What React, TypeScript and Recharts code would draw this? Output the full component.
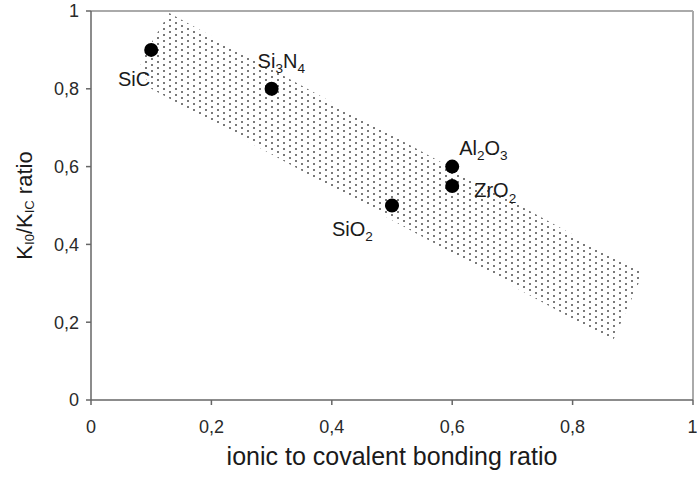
import { ScatterChart, Scatter, XAxis, YAxis, ReferenceLine, Label } from 'recharts';

const materials = ['SiC', 'Si3N4', 'SiO2', 'Al2O3', 'ZrO2'];
const bondingRatio = [0.1, 0.3, 0.5, 0.6, 0.6];
const toughnessRatio = [0.9, 0.8, 0.5, 0.6, 0.55];

// outline of the dotted band (corners)
const bandX = [0.13, 0.081, 0.098, 0.867, 0.917];
const bandY = [0.995, 0.869, 0.802, 0.152, 0.326];

const axisTicks = [0, 0.2, 0.4, 0.6, 0.8, 1];

const points = materials.map((name, i) => ({ name, x: bondingRatio[i], y: toughnessRatio[i] }));
const band = bandX.map((x, i) => ({ x, y: bandY[i] }));

// where each label sits relative to its dot: [dx, dy, anchor]
const labelPos: Record<string, [number, number, string]> = {
  SiC: [-1, 36, 'end'],
  Si3N4: [-14, -21, 'start'],
  SiO2: [-60, 30, 'start'],
  Al2O3: [7, -12, 'start'],
  ZrO2: [22, 11, 'start'],
};

const fmt = (v: number) => String(v).replace('.', ',');

function formula(text: string, size: number) {
  const parts = text.match(/[A-Za-z]+|\d+/g) || [];
  let sub = false;
  return parts.map((p, i) => {
    const isSub = /\d/.test(p);
    const dy = isSub === sub ? 0 : isSub ? size * 0.28 : -size * 0.28;
    sub = isSub;
    return (
      <tspan key={i} dy={dy} fontSize={isSub ? size * 0.68 : size}>
        {p}
      </tspan>
    );
  });
}

function Dot(props: any) {
  const { cx, cy, payload } = props;
  const [dx, dy, anchor] = labelPos[payload.name];
  return (
    <g>
      <circle cx={cx} cy={cy} r={7} fill="#000" />
      <text x={cx + dx} y={cy + dy} textAnchor={anchor as any} fill="#1a1a1a" fontSize={20}>
        {formula(payload.name, 20)}
      </text>
    </g>
  );
}

function BandShape(props: any) {
  const pts = (props.points || []).map((p: any) => `${p.x},${p.y}`).join(' ');
  return (
    <g>
      <defs>
        <pattern id="dots" width={12} height={6} patternUnits="userSpaceOnUse">
          <rect x={1} y={1} width={2} height={2} fill="#7a7a7a" />
          <rect x={7} y={4} width={2} height={2} fill="#7a7a7a" />
        </pattern>
      </defs>
      <polygon points={pts} fill="url(#dots)" stroke="none" />
    </g>
  );
}

function YTitle(props: any) {
  const { viewBox } = props;
  const x = viewBox.x + 24;
  const y = viewBox.y + viewBox.height / 2;
  return (
    <text
      x={x}
      y={y}
      transform={`rotate(-90 ${x} ${y})`}
      textAnchor="middle"
      dominantBaseline="central"
      fill="#1a1a1a"
      fontSize={22}
    >
      <tspan>K</tspan>
      <tspan fontSize={13} dy={5}>I0</tspan>
      <tspan dy={-5}>/K</tspan>
      <tspan fontSize={13} dy={5}>IC</tspan>
      <tspan dy={-5}> ratio</tspan>
    </text>
  );
}

function XTitle(props: any) {
  const { viewBox } = props;
  return (
    <text x={viewBox.x + viewBox.width / 2} y={465} textAnchor="middle" fill="#1a1a1a" fontSize={25}>
      ionic to covalent bonding ratio
    </text>
  );
}

export default function App() {
  return (
    <div style={{ position: 'absolute', left: 0, top: 0, fontFamily: '"Liberation Sans", Arial, sans-serif' }}>
      <ScatterChart width={697} height={478} margin={{ top: 11, right: 4, bottom: 0, left: 0 }}>
        <XAxis
          type="number"
          dataKey="x"
          domain={[0, 1]}
          ticks={axisTicks}
          tickFormatter={fmt}
          height={78}
          tickSize={5}
          tickMargin={15}
          stroke="#666"
          strokeWidth={1.5}
          tick={{ fontSize: 18, fill: '#2a2a2a' }}
        >
          <Label content={<XTitle />} />
        </XAxis>
        <YAxis
          type="number"
          dataKey="y"
          domain={[0, 1]}
          ticks={axisTicks}
          tickFormatter={fmt}
          width={91}
          tickSize={5}
          tickMargin={7}
          stroke="#666"
          strokeWidth={1.5}
          tick={{ fontSize: 18, fill: '#2a2a2a' }}
        >
          <Label content={<YTitle />} />
        </YAxis>
        <ReferenceLine y={1} stroke="#aaa" strokeWidth={2} />
        <ReferenceLine x={1} stroke="#aaa" strokeWidth={2} />
        <Scatter data={band} line={(p: any) => <BandShape {...p} />} shape={() => <g />} isAnimationActive={false} />
        <Scatter data={points} shape={<Dot />} isAnimationActive={false} />
      </ScatterChart>
    </div>
  );
}
